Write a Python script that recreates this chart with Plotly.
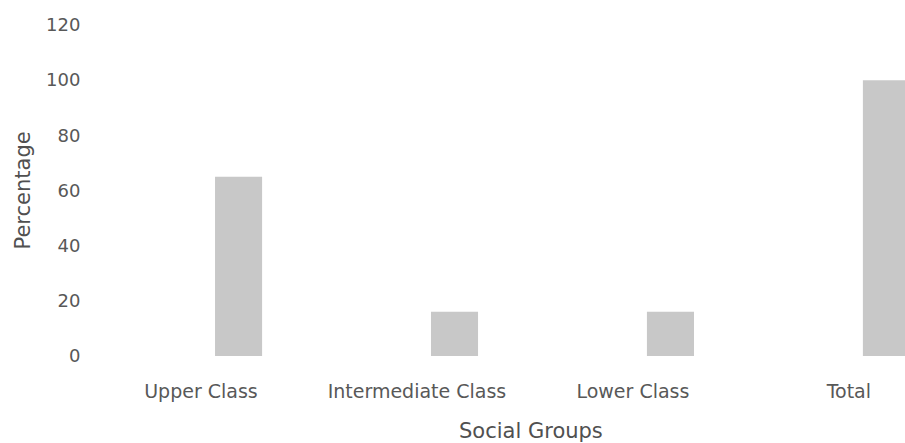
import plotly.graph_objects as go

categories = ["Upper Class", "Intermediate Class", "Lower Class", "Total"]
values = [65, 16, 16, 100]
y_ticks = [0, 20, 40, 60, 80, 100, 120]

font_family = "DejaVu Sans, sans-serif"
tick_color = "#585858"
title_color = "#505050"

fig = go.Figure()
fig.add_trace(go.Bar(
    x=categories, y=values,
    width=0.218, offset=0.065,
    marker=dict(color="#c8c8c8", line=dict(width=0)),
))

fig.update_layout(
    width=905, height=443,
    margin=dict(l=93, r=0, t=25, b=87, autoexpand=False),
    paper_bgcolor="white", plot_bgcolor="white",
    showlegend=False,
    font=dict(family=font_family, color=tick_color, size=18),
    xaxis=dict(
        type="category", range=[-0.5, 3.26], automargin=False,
        showgrid=False, showline=False, zeroline=False,
        ticks="outside", ticklen=18, tickcolor="rgba(0,0,0,0)",
        tickfont=dict(size=19, color=tick_color),
    ),
    yaxis=dict(
        range=[0, 120], tickvals=y_ticks, automargin=False,
        showgrid=False, showline=False, zeroline=False,
        ticks="outside", ticklen=8, tickcolor="rgba(0,0,0,0)",
        tickfont=dict(size=18, color=tick_color),
    ),
    annotations=[
        dict(text="Social Groups", xref="paper", yref="paper",
             x=(531 - 93) / 812, y=-(431 - 356) / 331,
             xanchor="center", yanchor="middle", showarrow=False,
             font=dict(size=21, color=title_color)),
        dict(text="Percentage", xref="paper", yref="paper",
             x=(22 - 93) / 812, y=0.5, textangle=-90,
             xanchor="center", yanchor="middle", showarrow=False,
             font=dict(size=21, color=title_color)),
    ],
)

fig.write_html("out.html",
               config={"displayModeBar": False},
               post_script="document.body.style.margin='0';document.body.style.overflow='hidden';")
